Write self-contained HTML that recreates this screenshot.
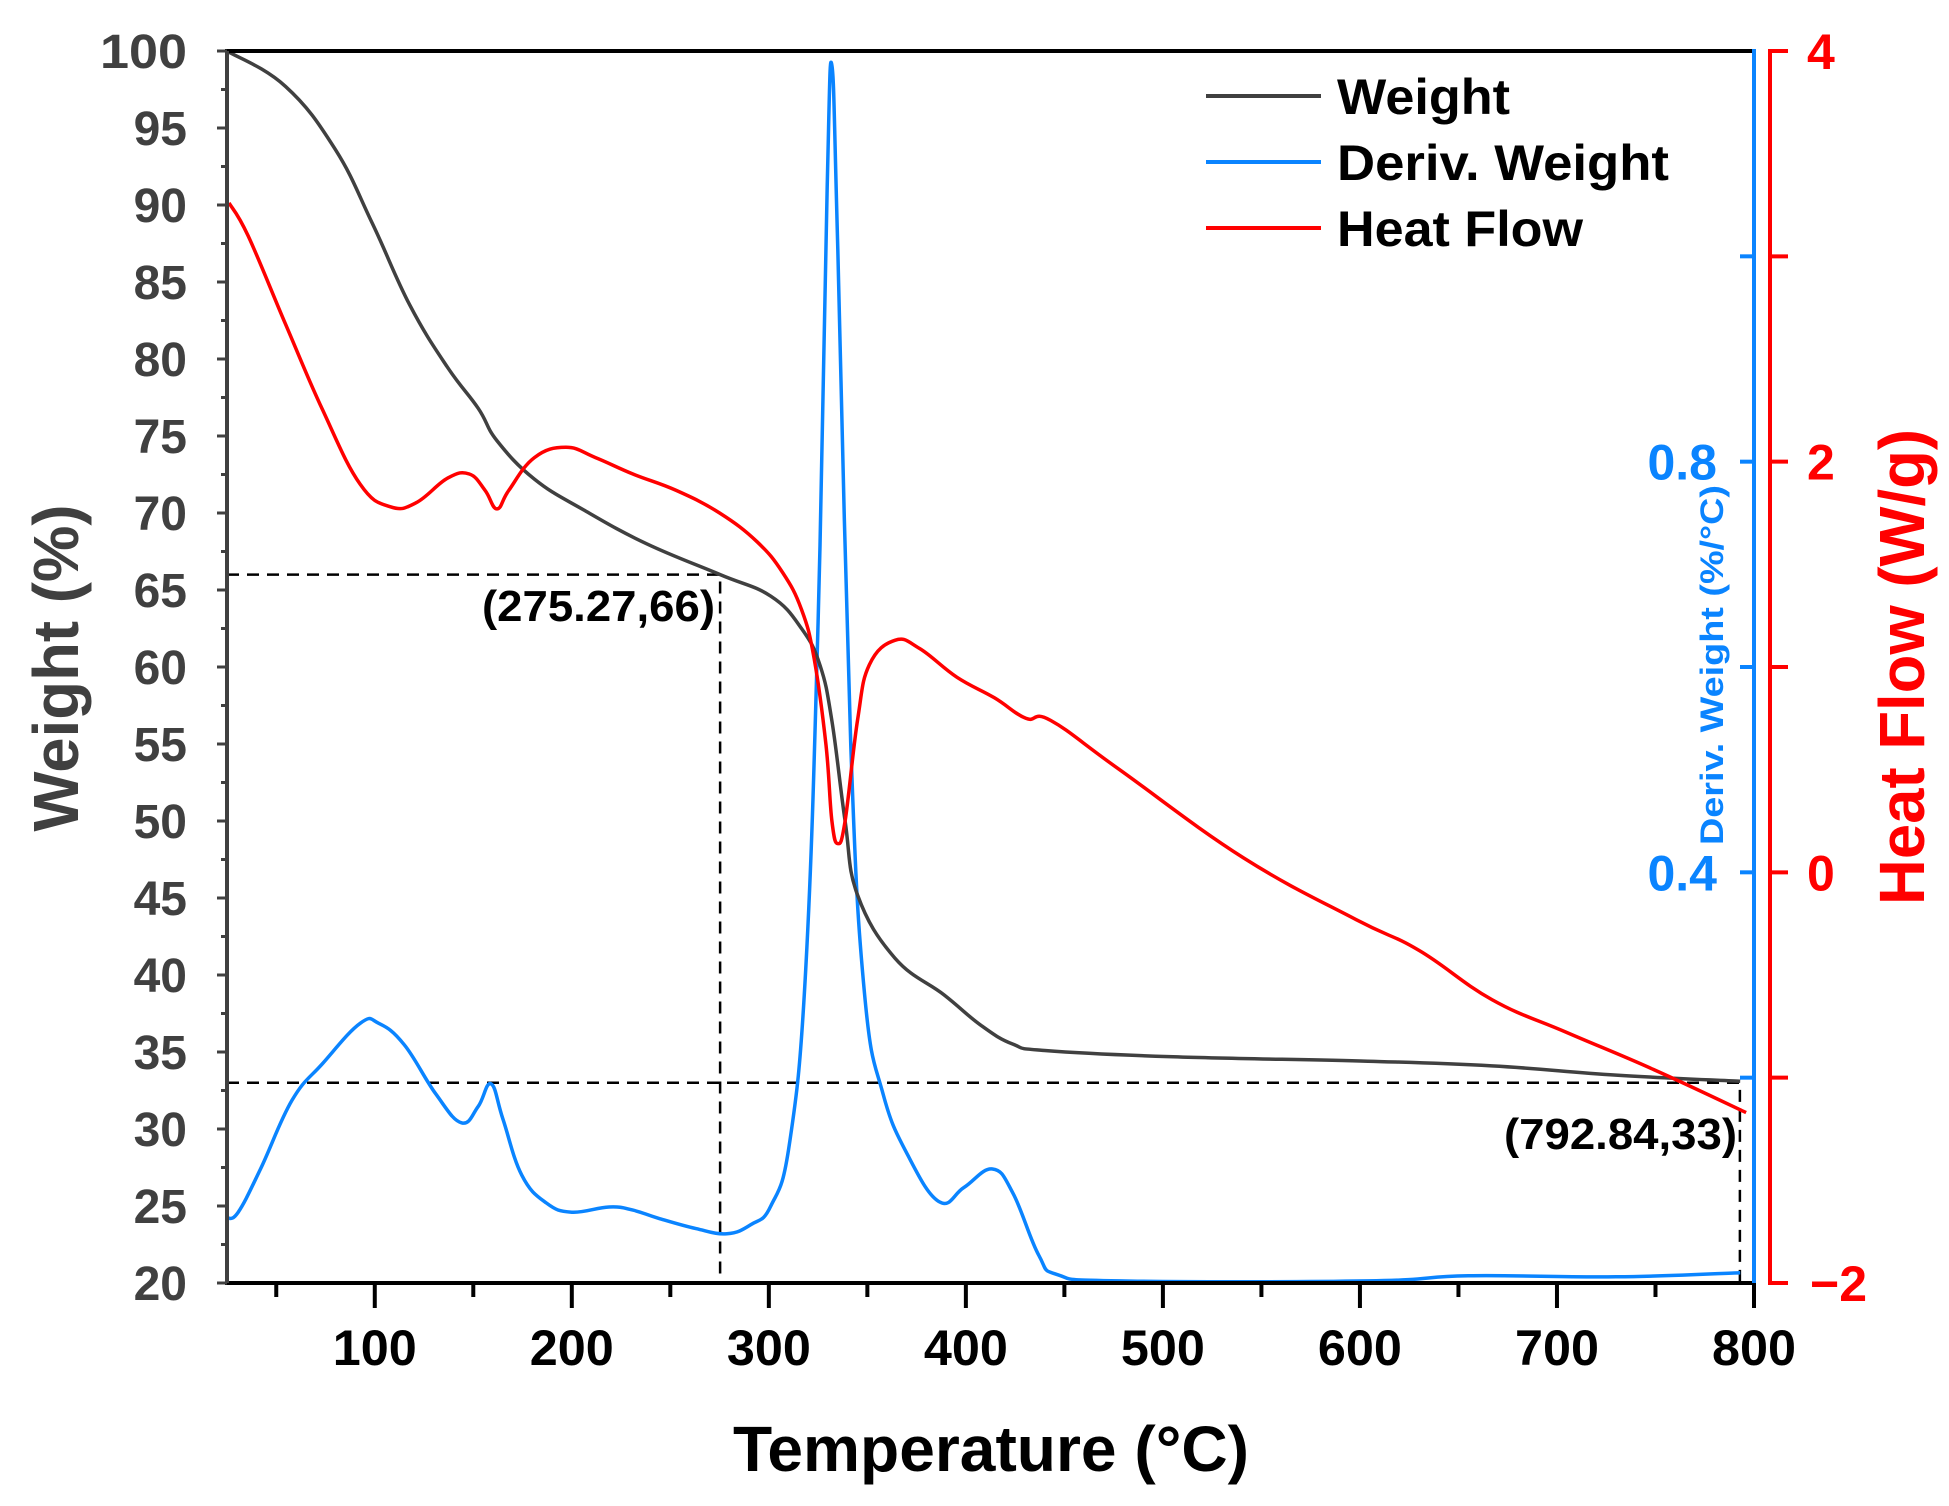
<!DOCTYPE html>
<html><head><meta charset="utf-8"><style>
html,body{margin:0;padding:0;background:#fff;}
svg{display:block;font-family:"Liberation Sans",Arial,sans-serif;font-weight:bold;}
</style></head><body>
<svg id="chart" width="1949" height="1506" viewBox="0 0 1949 1506" xmlns="http://www.w3.org/2000/svg"></svg>
<script>
const xTicks=[100,200,300,400,500,600,700,800];
const wTicks=[20,25,30,35,40,45,50,55,60,65,70,75,80,85,90,95,100];
const dTicks=[0.2,0.4,0.6,0.8,1.0];
const dLabels=[0.4,0.8];
const hTicks=[-2,-1,0,1,2,3,4];
const hLabels=[-2,0,2,4];
const wT=[25,54.7,80,98.8,117.8,136.7,152.5,162,181,206,238,275.3,301,316.6,326,332,338.7,345,364,389,408,424,440,503,604,667,730,793];
const wV=[100,97.7,93.6,88.8,83.5,79.5,76.8,74.7,72.2,70.2,68,66,64.6,62.5,60.1,56.5,50,45.2,41.1,38.7,36.7,35.5,35.1,34.7,34.4,34.1,33.5,33.1];
const hT=[26,35.7,54.7,73.6,92.6,108,121,137,148,156,162,168,181,197,212,231,253,275,294,307,316.6,323,329,332,335,338.7,345,351,364,376.5,395.5,414.5,430.4,443,478,541,598,630,667,705,749,796];
const hV=[3.26,3.1,2.67,2.25,1.89,1.78,1.8,1.92,1.94,1.86,1.77,1.86,2.02,2.07,2.02,1.94,1.86,1.75,1.61,1.46,1.28,1.04,0.62,0.25,0.14,0.25,0.74,1.01,1.13,1.09,0.95,0.85,0.75,0.74,0.5,0.07,-0.23,-0.38,-0.62,-0.78,-0.96,-1.17];
const dT=[25,30.7,42,58,73.6,92.6,102,115,131,144,152.5,159,165,174.6,187,200,219,231,244,263,278.7,291,301,310.5,318.7,325,329.6,332,335,341.6,348.6,358,370.7,386.6,399,413.5,424,437,446.7,478,604,655,730,793];
const dV=[0.063,0.069,0.111,0.178,0.214,0.253,0.253,0.232,0.184,0.156,0.172,0.194,0.16,0.105,0.078,0.069,0.074,0.071,0.063,0.053,0.048,0.057,0.075,0.136,0.305,0.644,1.068,1.186,1.007,0.523,0.281,0.184,0.124,0.079,0.093,0.111,0.087,0.027,0.008,0.002,0.002,0.007,0.006,0.01];
const marks=[[275.27,66],[792.84,33]];

const L=227,R=1754,T=51,B=1283;
const X=t=>L+(t-25)/(800-25)*(R-L);
const YW=w=>B-(w-20)/80*(B-T);
const YD=d=>B-d/1.2*(B-T);
const YH=h=>B-(h+2)/6*(B-T);
const svg=document.getElementById('chart');
const NS='http://www.w3.org/2000/svg';
function el(tag,attrs,txt){const e=document.createElementNS(NS,tag);for(const k in attrs)e.setAttribute(k,attrs[k]);if(txt!==undefined)e.textContent=txt;svg.appendChild(e);return e;}
function path(ts,vs,fy){
 const p=ts.map((t,i)=>[X(t),fy(vs[i])]);
 let d='M'+p[0][0].toFixed(1)+','+p[0][1].toFixed(1);
 for(let i=0;i<p.length-1;i++){
  const p0=p[i-1]||p[i],p1=p[i],p2=p[i+1],p3=p[i+2]||p2;
  const k=0.2;
  const c1=[p1[0]+(p2[0]-p0[0])*k,p1[1]+(p2[1]-p0[1])*k];
  const c2=[p2[0]-(p3[0]-p1[0])*k,p2[1]-(p3[1]-p1[1])*k];
  d+='C'+c1[0].toFixed(1)+','+c1[1].toFixed(1)+' '+c2[0].toFixed(1)+','+c2[1].toFixed(1)+' '+p2[0].toFixed(1)+','+p2[1].toFixed(1);
 }
 return d;}

// dashed guides
marks.forEach((m,i)=>{
 const g=el('path',{d:`M${L},${YW(m[1])}H${X(m[0])}V${B}`,fill:'none',stroke:'#000','stroke-width':2.5,'stroke-dasharray':'12,8'});
 
 
});
let a=el('text',{x:715,y:621,'text-anchor':'end','font-size':44,fill:'#000',textLength:233,lengthAdjust:'spacingAndGlyphs'},'(275.27,66)');

a=el('text',{x:1737,y:1149,'text-anchor':'end','font-size':44,fill:'#000',textLength:233,lengthAdjust:'spacingAndGlyphs'},'(792.84,33)');


// series
let s=el('path',{d:path(dT,dV,YD),fill:'none',stroke:'#0a84ff','stroke-width':3.5,'stroke-linejoin':'round'});

s=el('path',{d:path(wT,wV,YW),fill:'none',stroke:'#404040','stroke-width':3.5,'stroke-linejoin':'round'});

s=el('path',{d:path(hT,hV,YH),fill:'none',stroke:'#ff0000','stroke-width':3.5,'stroke-linejoin':'round'});


// axes frame
let ax=el('path',{d:`M${L},${B}V${T}H${R}`,fill:'none',stroke:'#000','stroke-width':4});

ax=el('line',{x1:L-2,y1:B,x2:R+2,y2:B,stroke:'#000','stroke-width':4});

ax=el('line',{x1:L,y1:T,x2:L,y2:B,stroke:'#404040','stroke-width':4});

ax=el('line',{x1:R,y1:T-2,x2:R,y2:B,stroke:'#0a84ff','stroke-width':4});

ax=el('line',{x1:1770,y1:T-2,x2:1770,y2:B+2,stroke:'#ff0000','stroke-width':4});


// x ticks
for(let t=50;t<=800;t+=50){const maj=t%100===0;el('line',{x1:X(t),y1:B,x2:X(t),y2:B+(maj?25:14),stroke:'#000','stroke-width':4});}
xTicks.forEach(t=>{const e=el('text',{x:X(t),y:B+82,'text-anchor':'middle','font-size':50,fill:'#000',textLength:84,lengthAdjust:'spacingAndGlyphs'},t);
 });
// weight ticks
for(let w=20;w<=100;w+=2.5){const maj=w%5===0;el('line',{x1:L,y1:YW(w),x2:L-(maj?10:6),y2:YW(w),stroke:'#404040','stroke-width':3});}
wTicks.forEach(w=>{const attrs={x:L-40,y:YW(w)+17,'text-anchor':'end','font-size':48,fill:'#404040'};
 if(w===100){attrs.textLength=87;attrs.lengthAdjust='spacingAndGlyphs';}
 const e=el('text',attrs,w);
 });
// deriv ticks
dTicks.forEach(d=>el('line',{x1:R,y1:YD(d),x2:R-14,y2:YD(d),stroke:'#0a84ff','stroke-width':4}));
dLabels.forEach(d=>{const e=el('text',{x:1717,y:YD(d)+18,'text-anchor':'end','font-size':50,fill:'#0a84ff'},d.toFixed(1));
 });
// heat ticks
hTicks.forEach(h=>el('line',{x1:1770,y1:YH(h),x2:1788,y2:YH(h),stroke:'#ff0000','stroke-width':4}));
hLabels.forEach(h=>{const e=el('text',{x:h<0?1810:1807,y:YH(h)+18,'text-anchor':'start','font-size':50,fill:'#ff0000'},h<0?'\u2212'+Math.abs(h):h);
 });

// titles
let t=el('text',{x:991,y:1471,'text-anchor':'middle','font-size':64,fill:'#000',textLength:516,lengthAdjust:'spacingAndGlyphs'},'Temperature (°C)');

t=el('text',{x:0,y:0,'text-anchor':'middle','font-size':64,fill:'#404040',textLength:327,lengthAdjust:'spacingAndGlyphs',transform:'translate(78,668) rotate(-90)'},'Weight (%)');

t=el('text',{x:0,y:0,'text-anchor':'middle','font-size':32,fill:'#0a84ff',textLength:360,lengthAdjust:'spacingAndGlyphs',transform:'translate(1723,665) rotate(-90)'},'Deriv. Weight (%/°C)');

t=el('text',{x:0,y:0,'text-anchor':'middle','font-size':64,fill:'#ff0000',textLength:476,lengthAdjust:'spacingAndGlyphs',transform:'translate(1924,667) rotate(-90)'},'Heat Flow (W/g)');


// legend
const leg=[['Weight','#404040',173],['Deriv. Weight','#0a84ff',332],['Heat Flow','#ff0000',246]];
leg.forEach((l,i)=>{const y=96+i*66;
 const ln=el('line',{x1:1206,y1:y,x2:1321,y2:y,stroke:l[1],'stroke-width':4});
 
 const tx=el('text',{x:1337,y:y+18,'font-size':50,fill:'#000',textLength:l[2],lengthAdjust:'spacingAndGlyphs'},l[0]);
 });
</script>
</body></html>
